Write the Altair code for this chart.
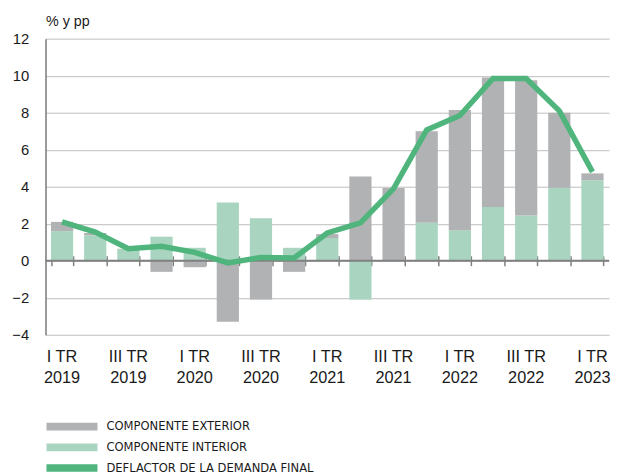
import altair as alt
import pandas as pd

# ---- data ----
quarters = ["I TR", "II TR", "III TR", "IV TR"] * 4 + ["I TR"]
years = ["2019"] * 4 + ["2020"] * 4 + ["2021"] * 4 + ["2022"] * 4 + ["2023"]

interior = [1.6, 1.38, 0.65, 1.3, 0.7, 3.15, 2.3, 0.7, 1.23, -2.1, 0.0, 2.05, 1.65, 2.9, 2.45, 3.95, 4.35]
exterior = [0.5, 0.12, 0.0, -0.6, -0.35, -3.3, -2.1, -0.6, 0.21, 4.55, 3.93, 4.95, 6.5, 7.0, 7.3, 4.05, 0.37]
deflactor = [2.1, 1.55, 0.65, 0.78, 0.45, -0.12, 0.18, 0.15, 1.5, 2.05, 3.9, 7.07, 7.85, 9.85, 9.85, 8.1, 4.8]

series_names = ["COMPONENTE EXTERIOR", "COMPONENTE INTERIOR", "DEFLACTOR DE LA DEMANDA FINAL"]
series_colors = ["#b1b2b4", "#a9d5c0", "#4fb57c"]
y_ticks = [-4, -2, 0, 2, 4, 6, 8, 10, 12]
unit_label = "% y pp"

cats = [f"{q}|{y}" for q, y in zip(quarters, years)]

bars = pd.DataFrame(
    [{"cat": c, "serie": series_names[1], "value": v, "ord": 0} for c, v in zip(cats, interior)]
    + [{"cat": c, "serie": series_names[0], "value": v, "ord": 1} for c, v in zip(cats, exterior)]
)
line = pd.DataFrame({"cat": cats, "value": deflactor, "serie": series_names[2]})
zero = pd.DataFrame({"value": [0]})

FONT = "Liberation Sans, Arial, Helvetica, sans-serif"
NARROW = "Liberation Sans Narrow, Arial Narrow, DejaVu Sans Condensed, sans-serif"
W, H = 571, 300

xscale = alt.Scale(paddingInner=0.33, paddingOuter=0.165)
yscale = alt.Scale(domain=[-4, 12], nice=False, zero=False)

yaxis = alt.Axis(
    values=y_ticks, grid=True, gridColor="#bdbdbd", gridWidth=1,
    domain=True, domainColor="#808080", domainWidth=1.6,
    ticks=False, tickSize=0, labelPadding=17, labelFont=FONT, labelFontSize=15,
    labelColor="#1a1a1a",
    title=unit_label, titleAngle=0, titleX=0, titleY=-13, titleAlign="left",
    titleBaseline="alphabetic", titleFont=FONT, titleFontSize=14.5,
    titleFontWeight="normal", titleColor="#1a1a1a",
)

label_axis = alt.Axis(
    orient="bottom", domain=False, ticks=False, grid=False, labelAngle=0,
    labelExpr="test(/^(I|III) TR/, datum.value) ? split(datum.value, '|') : ''",
    labelFont=FONT, labelFontSize=16.5, labelLineHeight=21, labelPadding=14,
    labelColor="#1a1a1a", labelBound=False, labelOverlap=False, title=None,
)

tick_axis = alt.Axis(
    orient="bottom", offset=-(H * 4 / 16) - 5, domain=False, labels=False, grid=False,
    ticks=True, tickSize=10, tickColor="#808080", tickWidth=1.5, tickBand="extent", title=None,
)

# wide flat legend swatch: unit path scaled by sqrt(symbolSize)/2 = 14 px
legend = alt.Legend(
    orient="none", legendX=1, legendY=379, direction="vertical", title=None,
    symbolType="M-1,-0.28L2.69,-0.28L2.69,0.28L-1,0.28Z", symbolSize=784,
    symbolStrokeWidth=0, symbolOpacity=1, labelFont=NARROW, labelFontSize=13,
    labelColor="#1a1a1a", labelOffset=32.7, labelLimit=400, rowPadding=0, padding=0,
)

yenc = alt.Y("value:Q", scale=yscale, axis=yaxis, stack="zero")

bar_layer = alt.Chart(bars).mark_bar().encode(
    x=alt.X("cat:N", sort=cats, scale=xscale, axis=label_axis),
    y=yenc,
    color=alt.Color("serie:N", scale=alt.Scale(domain=series_names, range=series_colors), legend=legend),
    order=alt.Order("ord:Q", sort="ascending"),
)

zero_layer = alt.Chart(zero).mark_rule(color="#808080", strokeWidth=1.8).encode(
    y=alt.Y("value:Q", scale=yscale, axis=yaxis),
)

line_layer = alt.Chart(line).mark_line(color=series_colors[2], strokeWidth=5.5, strokeJoin="miter").encode(
    x=alt.X("cat:N", sort=cats, scale=xscale, axis=tick_axis),
    y=alt.Y("value:Q", scale=yscale, axis=yaxis),
)

chart = (
    alt.layer(bar_layer, zero_layer, line_layer)
    .resolve_axis(x="independent")
    .properties(
        width=W, height=H,
        autosize=alt.AutoSizeParams(type="none"),
        padding={"left": 38, "top": 28, "right": 4, "bottom": 138},
    )
    .configure_view(stroke=None)
)

chart.save("out.html", embed_options={"renderer": "svg", "actions": False})
